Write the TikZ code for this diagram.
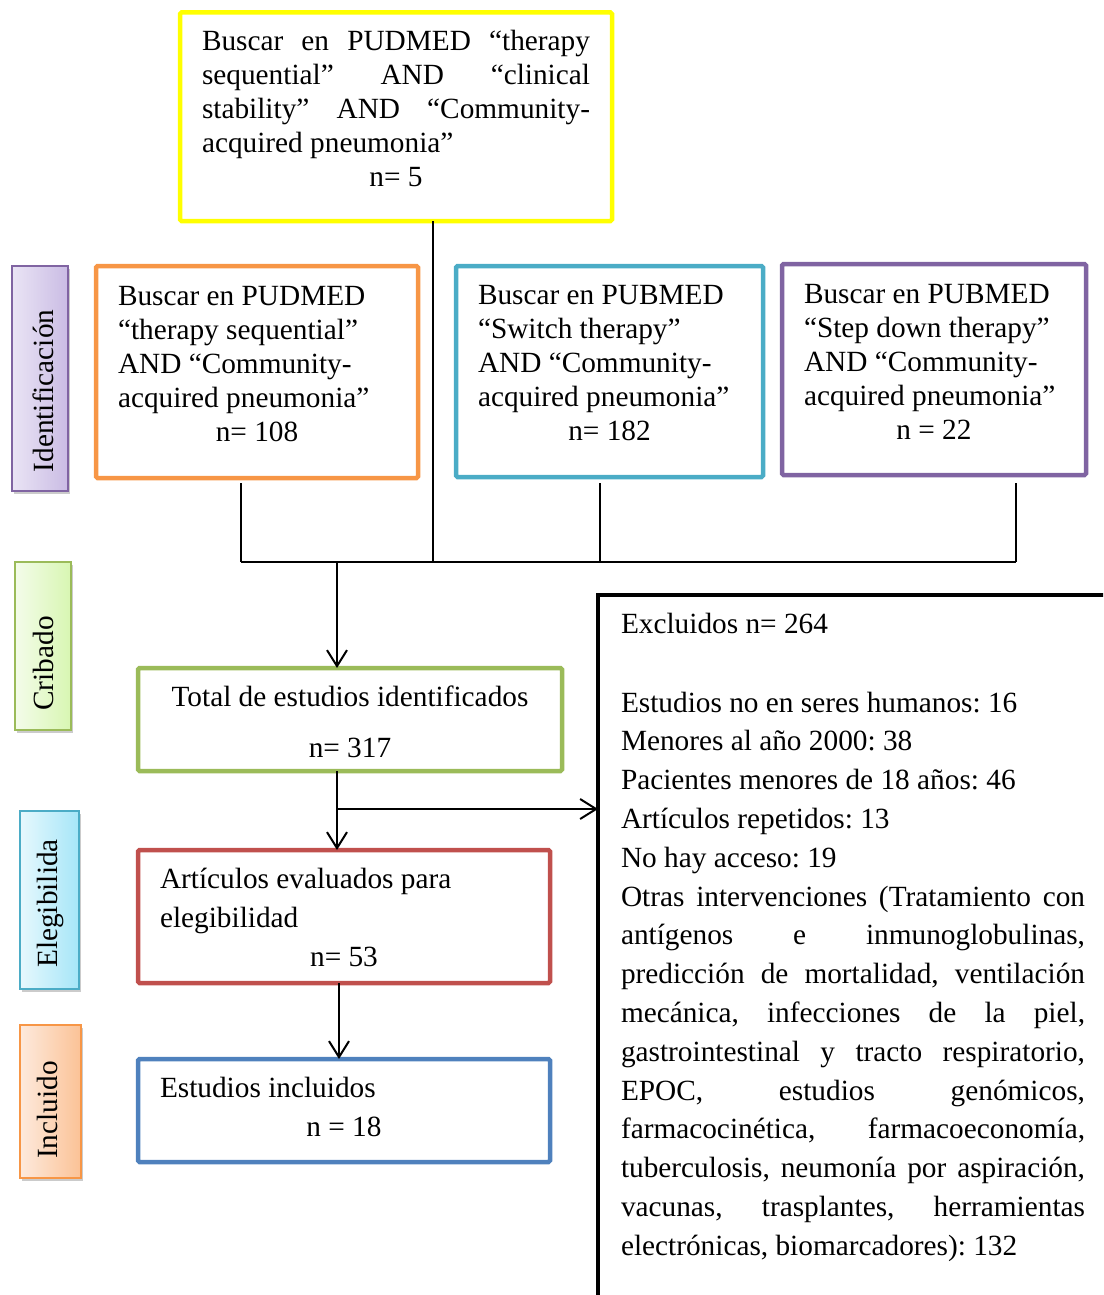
\documentclass[tikz,border=0pt]{standalone}
\usepackage{fontspec}
\setmainfont{Liberation Serif}
\usetikzlibrary{arrows.meta,shadows,fit}
\definecolor{cyel}{HTML}{FFFF00}
\definecolor{corg}{HTML}{F79646}
\definecolor{cblu}{HTML}{4BACC6}
\definecolor{cpur}{HTML}{8064A2}
\definecolor{cgrn}{HTML}{9BBB59}
\definecolor{cred}{HTML}{C0504D}
\definecolor{cdbl}{HTML}{4F81BD}
\definecolor{purL}{HTML}{EAE4F5}
\definecolor{purR}{HTML}{CABCE4}
\definecolor{grnL}{HTML}{F4FCEA}
\definecolor{grnR}{HTML}{D8F6B2}
\definecolor{bluL}{HTML}{E6F8FD}
\definecolor{bluR}{HTML}{A6E6F8}
\definecolor{orgL}{HTML}{FDEADD}
\definecolor{orgR}{HTML}{FBC296}
\newcommand\jln[1]{\hbox to\hsize{#1}}
\newcommand\lln[1]{\hbox to\hsize{#1\hfil}}
\newcommand\cln[1]{\hbox to\hsize{\hfil#1\hfil}}
\newcommand\tblock[3]{\vtop{\hsize=#1pt\baselineskip=#2pt\relax#3}}
\frenchspacing
\begin{document}
\begin{tikzpicture}[x=1pt,y=-1pt,
  every node/.style={font=\fontsize{29.3}{34}\selectfont\frenchspacing},
  fbox/.style={draw=#1, line width=4.5pt, inner sep=0pt, outer sep=0pt, rounded corners=1.5pt},
  sidebox/.style n args={3}{draw=#1, line width=2.5pt, inner sep=0pt, outer sep=0pt,
     drop shadow={shadow xshift=2pt, shadow yshift=-3pt, fill=black!45, opacity=0.45},
     left color=#2, right color=#3},
  txt/.style={anchor=base west, inner sep=0pt, outer sep=0pt},
  sidetxt/.style={rotate=90, anchor=base, inner sep=0pt, outer sep=0pt},
  conn/.style={line width=2pt, draw=black},
  arr/.style={conn, -{Straight Barb[length=16pt,width=20pt]}}
]
\useasboundingbox (0,0) rectangle (1103,1295);
\clip (0,0) rectangle (1103,1295);

% side labels
\node[sidebox={cpur}{purL}{purR}, fit={(12,266) (68,491)}] (sid) {};
\node[sidetxt] (sidt) at (53,391) {Identificación};
\node[sidebox={cgrn}{grnL}{grnR}, fit={(15,562) (71,730)}] (scr) {};
\node[sidetxt] (scrt) at (53,663.5) {Cribado};
\node[sidebox={cblu}{bluL}{bluR}, fit={(20,811) (79,989)}] (sel) {};
\node[sidetxt] (selt) at (57.5,903.5) {Elegibilida};
\node[sidebox={corg}{orgL}{orgR}, fit={(20,1025) (81,1178)}] (sin) {};
\node[sidetxt] (sint) at (57,1110) {Incluido};

% boxes
\node[fbox=cyel, fit={(180,12.5) (612,221)}] (yellow) {};
\node[fbox=corg, fit={(96,266) (418,478)}] (orange) {};
\node[fbox=cblu, fit={(456,266) (763,477)}] (blue) {};
\node[fbox=cpur, fit={(782,264) (1086,475)}] (purple) {};
\node[fbox=cgrn, fit={(138,668) (562,771)}] (green) {};
\node[fbox=cred, fit={(138,850) (550,983)}] (red) {};
\node[fbox=cdbl, fit={(138,1059) (550,1162)}] (dblue) {};
\node[draw=black, line width=4.5pt, inner sep=0pt, outer sep=0pt, fit={(598,595) (1140,1340)}] (excl) {};

% texts
\node[txt] (yellowt) at (202,51) {\tblock{388}{34}{%
  \jln{Buscar en PUDMED “therapy}%
  \jln{sequential” AND “clinical}%
  \jln{stability” AND “Community-}%
  \lln{acquired pneumonia”}%
  \cln{n= 5}}};
\node[txt] (oranget) at (118,305) {\tblock{278}{34}{%
  \lln{Buscar en PUDMED}%
  \lln{“therapy sequential”}%
  \lln{AND “Community-}%
  \lln{acquired pneumonia”}%
  \cln{n= 108}}};
\node[txt] (bluet) at (478,304) {\tblock{263}{34}{%
  \lln{Buscar en PUBMED}%
  \lln{“Switch therapy”}%
  \lln{AND “Community-}%
  \lln{acquired pneumonia”}%
  \cln{n= 182}}};
\node[txt] (purplet) at (804,303) {\tblock{260}{34}{%
  \lln{Buscar en PUBMED}%
  \lln{“Step down therapy”}%
  \lln{AND “Community-}%
  \lln{acquired pneumonia”}%
  \cln{n = 22}}};
\node[txt] (greent) at (160,706) {\tblock{380}{51}{%
  \cln{Total de estudios identificados}%
  \cln{n= 317}}};
\node[txt] (redt) at (160,888) {\tblock{368}{39}{%
  \lln{Artículos evaluados para}%
  \lln{elegibilidad}%
  \cln{n= 53}}};
\node[txt] (dbluet) at (160,1097) {\tblock{368}{39}{%
  \lln{Estudios incluidos}%
  \cln{n = 18}}};
\node[txt] (exclt) at (621,633) {Excluidos n= 264};
\node[txt] (excll) at (621,712) {\tblock{464}{38.8}{%
  \lln{Estudios no en seres humanos: 16}%
  \lln{Menores al año 2000: 38}%
  \lln{Pacientes menores de 18 años: 46}%
  \lln{Artículos repetidos: 13}%
  \lln{No hay acceso: 19}%
  \jln{Otras intervenciones (Tratamiento con}%
  \jln{antígenos e inmunoglobulinas,}%
  \jln{predicción de mortalidad, ventilación}%
  \jln{mecánica, infecciones de la piel,}%
  \jln{gastrointestinal y tracto respiratorio,}%
  \jln{EPOC, estudios genómicos,}%
  \jln{farmacocinética, farmacoeconomía,}%
  \jln{tuberculosis, neumonía por aspiración,}%
  \jln{vacunas, trasplantes, herramientas}%
  \lln{electrónicas, biomarcadores): 132}}};

% connectors
\coordinate (j1) at (241,562);
\coordinate (j2) at (433,562);
\coordinate (j3) at (600,562);
\coordinate (j4) at (1016,562);
\coordinate (jm) at (337,562);
\coordinate (jb) at (337,809);
\coordinate (jr) at (339,983);
\draw[conn] ([yshift=-5pt]orange.south -| j1) -- (j1);
\draw[conn] (yellow.south -| j2) -- (j2);
\draw[conn] ([yshift=-6pt]blue.south -| j3) -- (j3);
\draw[conn] ([yshift=-8pt]purple.south -| j4) -- (j4);
\draw[conn] (j1) -- (j4);
\draw[arr] (jm) -- (green.north -| jm);
\draw[arr] (green.south -| jm) -- (red.north -| jm);
\draw[arr] (jb) -- (jb -| excl.west);
\draw[arr] (red.south -| jr) -- (dblue.north -| jr);
\end{tikzpicture}
\end{document}
